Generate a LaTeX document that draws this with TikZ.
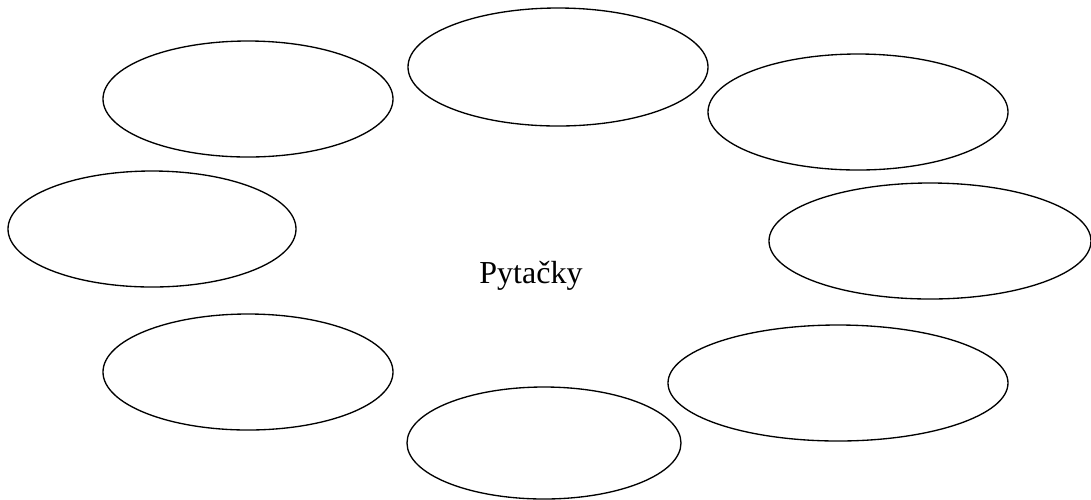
\documentclass[tikz,border=0pt]{standalone}
\usepackage{fontspec}
\setmainfont{Liberation Serif}
\usepackage{tikz}

\begin{document}
\begin{tikzpicture}[x=0.375pt, y=-0.375pt, bubble/.style={draw, line width=0.5pt}, every node/.style={font=\fontsize{12}{14}\selectfont}]
    \useasboundingbox (0,0) rectangle (1091,499);

    % Centre word
    \node[anchor=base, inner sep=0pt] (centre) at (531,283) {Pytačky};

    % Empty bubbles round the word
    \draw[bubble] (248,99) ellipse (145 and 58);   % top left
    \draw[bubble] (558,67) ellipse (150 and 59);   % top
    \draw[bubble] (858,112) ellipse (150 and 58);  % top right
    \draw[bubble] (152,229) ellipse (144 and 58);  % left
    \draw[bubble] (930,241) ellipse (161 and 58);  % right
    \draw[bubble] (248,372) ellipse (145 and 58);  % bottom left
    \draw[bubble] (838,383) ellipse (170 and 58);  % bottom right
    \draw[bubble] (544,443) ellipse (137 and 56);  % bottom
\end{tikzpicture}
\end{document}
